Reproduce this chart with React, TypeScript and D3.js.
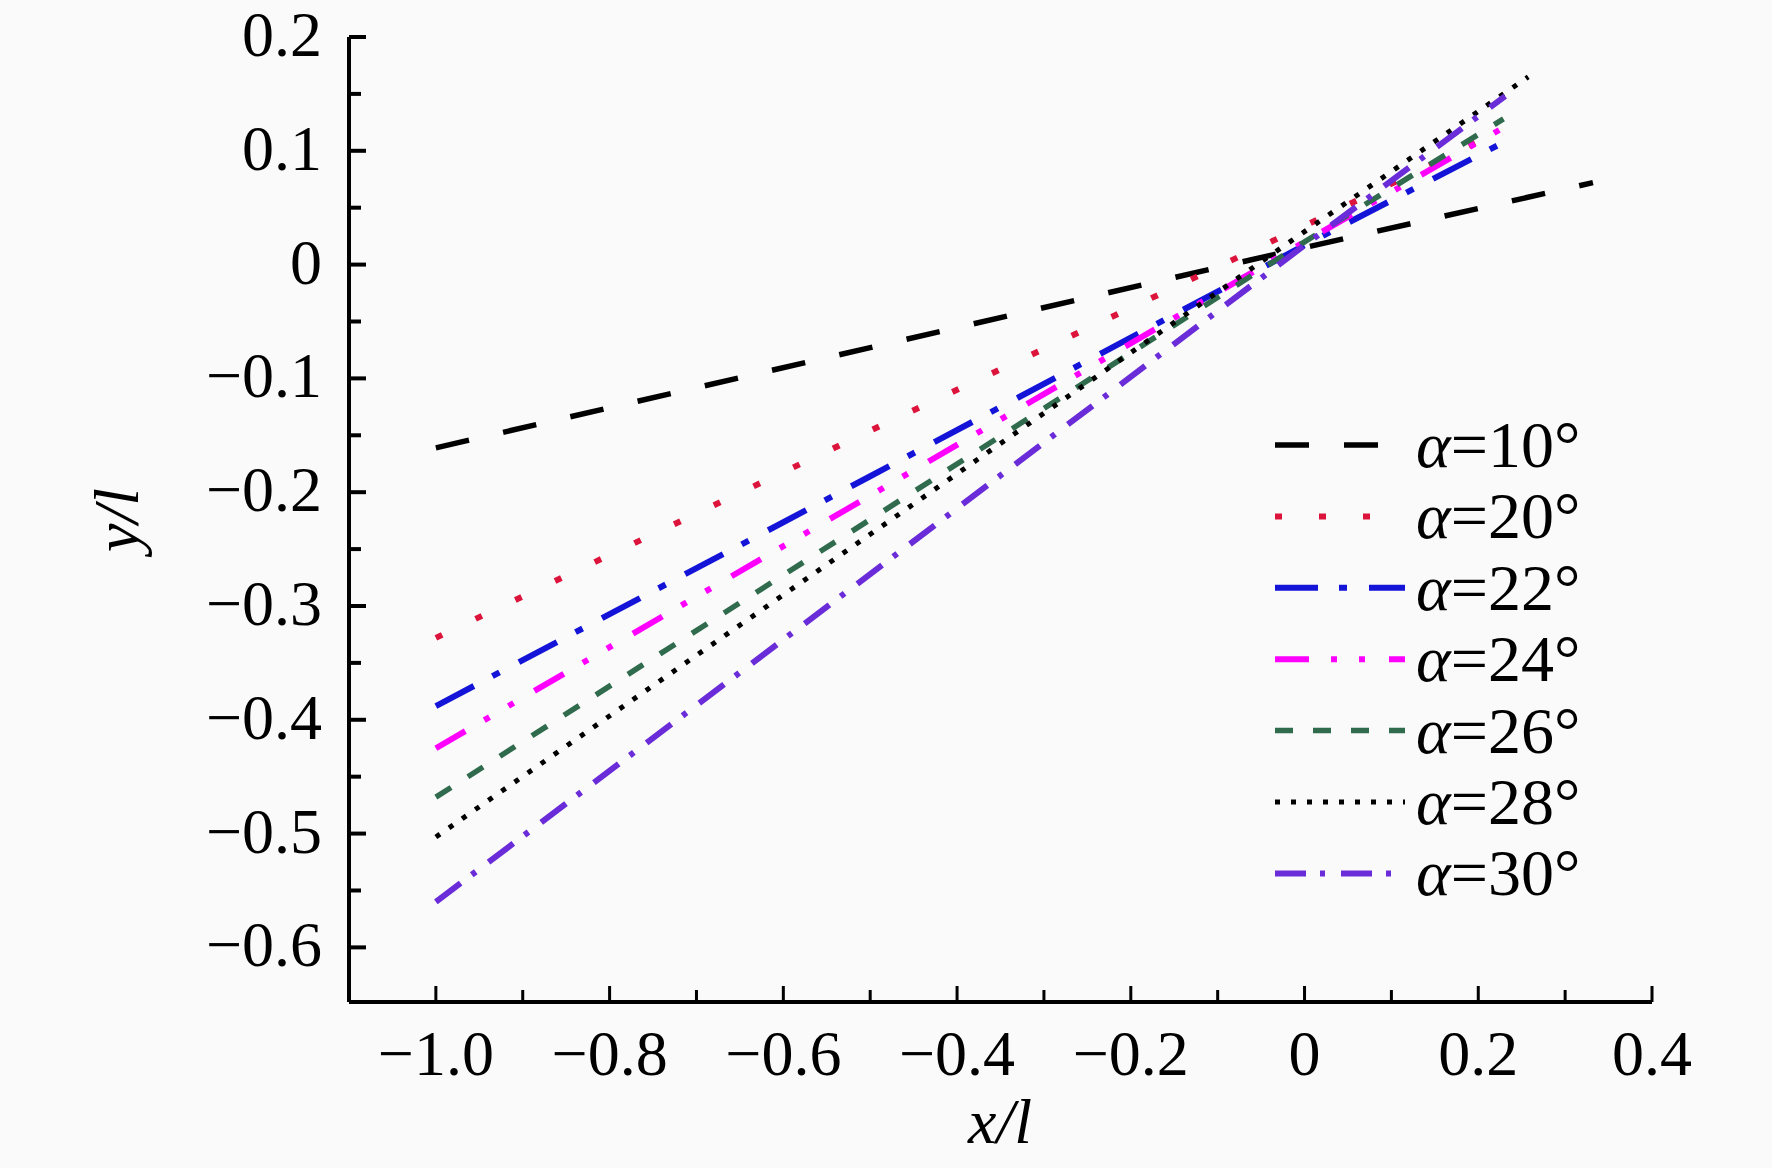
import React from "react";
import * as d3 from "d3";

const W = 1772;
const H = 1168;

const xTicksMajor = [-1.0, -0.8, -0.6, -0.4, -0.2, 0, 0.2, 0.4];
const xTicksMinor = [-0.9, -0.7, -0.5, -0.3, -0.1, 0.1, 0.3];
const yTicksMajor = [0.2, 0.1, 0, -0.1, -0.2, -0.3, -0.4, -0.5, -0.6];
const yTicksMinor = [0.15, 0.05, -0.05, -0.15, -0.25, -0.35, -0.45, -0.55];

const seriesNames = ["10", "20", "22", "24", "26", "28", "30"];
const seriesColors = ["#000000", "#dc143c", "#1414d8", "#ff00ff", "#2f6b4c", "#000000", "#6a2bd9"];
const seriesDash = ["34,35", "7,37", "43,21,8,22", "34,22,6,22,6,24", "18,20", "5,11", "31,14,5,16"];
const seriesWidth = [5.5, 6, 6, 6, 5.5, 5, 6];

const a10 = [[-1.0, -0.161], [-0.5, -0.073], [0, 0.015], [0.332, 0.072]];
const a20 = [[-1.0, -0.328], [-0.5, -0.146], [0, 0.034], [0.213, 0.113]];
const a22 = [[-1.0, -0.388], [-0.5, -0.186], [0, 0.017], [0.223, 0.105]];
const a24 = [[-1.0, -0.425], [-0.5, -0.203], [0, 0.02], [0.244, 0.127]];
const a26 = [[-1.0, -0.468], [-0.5, -0.224], [0, 0.02], [0.229, 0.128]];
const a28 = [[-1.0, -0.503], [-0.5, -0.237], [0, 0.029], [0.2575, 0.165]];
const a30 = [[-1.0, -0.560], [-0.5, -0.272], [0, 0.017], [0.231, 0.148]];
const seriesData = [a10, a20, a22, a24, a26, a28, a30];

const fmt = (v: number) => {
  if (Math.abs(v) < 1e-9) return "0";
  const s = Math.abs(v) >= 1 ? Math.abs(v).toFixed(1) : String(Math.round(Math.abs(v) * 10) / 10);
  return (v < 0 ? "\u2212" : "") + s;
};

export default function App() {
  const x = d3.scaleLinear().domain([-1.1, 0.4]).range([349, 1652]);
  const y = d3.scaleLinear().domain([-0.648, 0.2]).range([1002, 37]);
  const line = d3
    .line<number[]>()
    .x((d) => x(d[0]))
    .y((d) => y(d[1]));

  const font = "'Liberation Serif', 'Times New Roman', serif";
  const axisY = y(-0.648);
  const axisX = x(-1.1);

  const legendX1 = 1275;
  const legendX2 = 1405;
  const legendY0 = 445;
  const legendStep = 71.4;

  return (
    <svg
      width={W}
      height={H}
      style={{ position: "absolute", left: 0, top: 0 }}
      xmlns="http://www.w3.org/2000/svg"
    >
      <rect x={0} y={0} width={W} height={H} fill="#fafafa" />

      {seriesData.map((d, i) => (
        <path
          key={"s" + i}
          d={line(d) || ""}
          fill="none"
          stroke={seriesColors[i]}
          strokeWidth={seriesWidth[i]}
          strokeDasharray={seriesDash[i]}
        />
      ))}

      {/* axes */}
      <line x1={axisX} y1={axisY} x2={x(0.4)} y2={axisY} stroke="#000" strokeWidth={4} />
      <line x1={axisX} y1={axisY} x2={axisX} y2={y(0.2)} stroke="#000" strokeWidth={4} />

      {xTicksMajor.map((t) => (
        <g key={"xm" + t}>
          <line x1={x(t)} x2={x(t)} y1={axisY} y2={axisY - 16} stroke="#000" strokeWidth={3} />
          <text
            x={x(t)}
            y={1075}
            textAnchor="middle"
            fontFamily={font}
            fontSize={64}
            fill="#000"
          >
            {fmt(t)}
          </text>
        </g>
      ))}
      {xTicksMinor.map((t) => (
        <line key={"xn" + t} x1={x(t)} x2={x(t)} y1={axisY} y2={axisY - 12} stroke="#000" strokeWidth={3} />
      ))}

      {yTicksMajor.map((t) => (
        <g key={"ym" + t}>
          <line x1={axisX} x2={axisX + 17} y1={y(t)} y2={y(t)} stroke="#000" strokeWidth={4} />
          <text
            x={322}
            y={y(t) + 19}
            textAnchor="end"
            fontFamily={font}
            fontSize={64}
            fill="#000"
          >
            {fmt(t)}
          </text>
        </g>
      ))}
      {yTicksMinor.map((t) => (
        <line key={"yn" + t} x1={axisX} x2={axisX + 12} y1={y(t)} y2={y(t)} stroke="#000" strokeWidth={4} />
      ))}

      {/* axis titles */}
      <text x={1000} y={1143} textAnchor="middle" fontFamily={font} fontSize={64} fontStyle="italic" fill="#000">
        x/l
      </text>
      <text
        transform={`translate(138,520) rotate(-90)`}
        textAnchor="middle"
        fontFamily={font}
        fontSize={64}
        fontStyle="italic"
        fill="#000"
      >
        y/l
      </text>

      {/* legend */}
      {seriesNames.map((n, i) => {
        const ly = legendY0 + i * legendStep;
        return (
          <g key={"lg" + i}>
            <line
              x1={legendX1}
              x2={legendX2}
              y1={ly}
              y2={ly}
              stroke={seriesColors[i]}
              strokeWidth={seriesWidth[i]}
              strokeDasharray={seriesDash[i]}
            />
            <text x={1416} y={ly + 22} fontFamily={font} fontSize={66} fill="#000">
              <tspan fontStyle="italic">α</tspan>
              <tspan>={n}°</tspan>
            </text>
          </g>
        );
      })}
    </svg>
  );
}
